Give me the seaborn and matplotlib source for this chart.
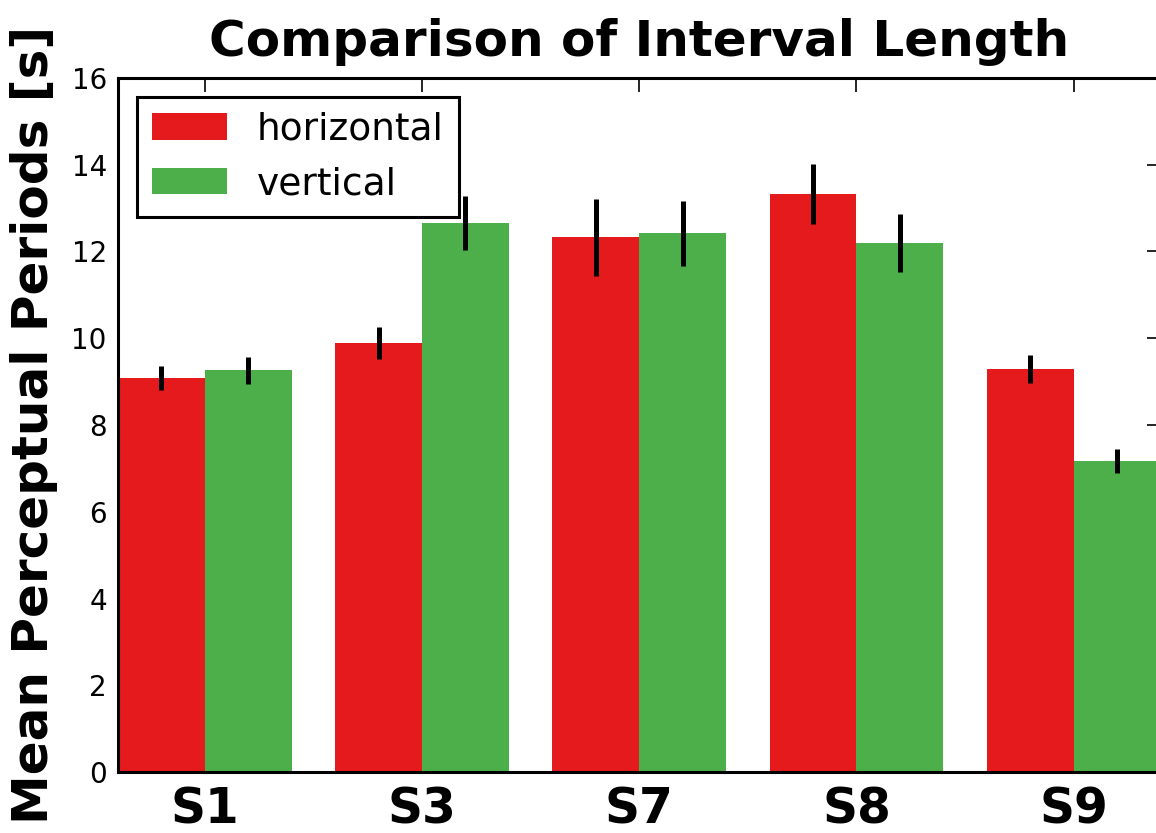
import matplotlib
matplotlib.use("Agg")
import matplotlib.pyplot as plt
import seaborn as sns
import pandas as pd
import numpy as np

subjects = ["S1", "S3", "S7", "S8", "S9"]
orientations = ["horizontal", "vertical"]
horizontal_mean = [9.08, 9.88, 12.33, 13.32, 9.29]
vertical_mean = [9.26, 12.65, 12.42, 12.19, 7.17]
horizontal_err = [0.28, 0.37, 0.89, 0.69, 0.33]
vertical_err = [0.31, 0.62, 0.75, 0.67, 0.28]
palette = {"horizontal": "#e41a1c", "vertical": "#4daf4a"}

df = pd.DataFrame({
    "subject": subjects * 2,
    "orientation": ["horizontal"] * len(subjects) + ["vertical"] * len(subjects),
    "period": horizontal_mean + vertical_mean,
    "err": horizontal_err + vertical_err,
})

sns.set_style("white")
plt.rcParams["font.family"] = ["DejaVu Sans"]
plt.rcParams["text.color"] = "black"
plt.rcParams["axes.labelcolor"] = "black"
plt.rcParams["xtick.color"] = "black"
plt.rcParams["ytick.color"] = "black"

fig = plt.figure(figsize=(11.56, 8.33), dpi=100)
ax = fig.add_axes([0.102, 0.0732, 0.902, 0.8332])

sns.barplot(data=df, x="subject", y="period", hue="orientation", order=subjects,
            hue_order=orientations, palette=palette, errorbar=None, width=0.8,
            saturation=1, linewidth=0, ax=ax)

# error bars at bar centres
for orient, errs in zip(orientations, [horizontal_err, vertical_err]):
    for subj, e in zip(subjects, errs):
        row = df[(df.subject == subj) & (df.orientation == orient)].iloc[0]
        i = subjects.index(subj)
        off = -0.2 if orient == "horizontal" else 0.2
        ax.errorbar(i + off, row.period, yerr=e, fmt="none", ecolor="black",
                    elinewidth=3.6, capsize=0, zorder=5)

ax.set_xlim(-0.4, 4.4)
ax.set_ylim(0, 16)
ax.set_yticks(np.arange(0, 17, 2))
ax.set_xlabel("")
ax.set_ylabel("Mean Perceptual Periods [s]", fontsize=36, fontweight="bold",
              labelpad=10, color="black")
ax.set_title("Comparison of Interval Length", fontsize=36, fontweight="bold", pad=16,
             color="black")

for s in ax.spines.values():
    s.set_linewidth(2.2)
    s.set_color("black")
ax.tick_params(axis="both", direction="in", length=10, width=1.2, top=True, right=True,
               colors="black", labelcolor="black")
ax.tick_params(axis="y", labelsize=20, pad=8)
ax.tick_params(axis="x", labelsize=35, pad=10)
for lab in ax.get_xticklabels():
    lab.set_fontweight("bold")

leg = ax.legend(loc="upper left", fontsize=27, frameon=True, fancybox=False,
                edgecolor="black", borderaxespad=0.5, handlelength=2.0,
                handleheight=0.7, borderpad=0.4, labelspacing=0.5, handletextpad=0.8)
leg.get_frame().set_linewidth(2.2)
leg.get_frame().set_alpha(1)
for t in leg.get_texts():
    t.set_color("black")

fig.savefig("out.png", dpi=100)
